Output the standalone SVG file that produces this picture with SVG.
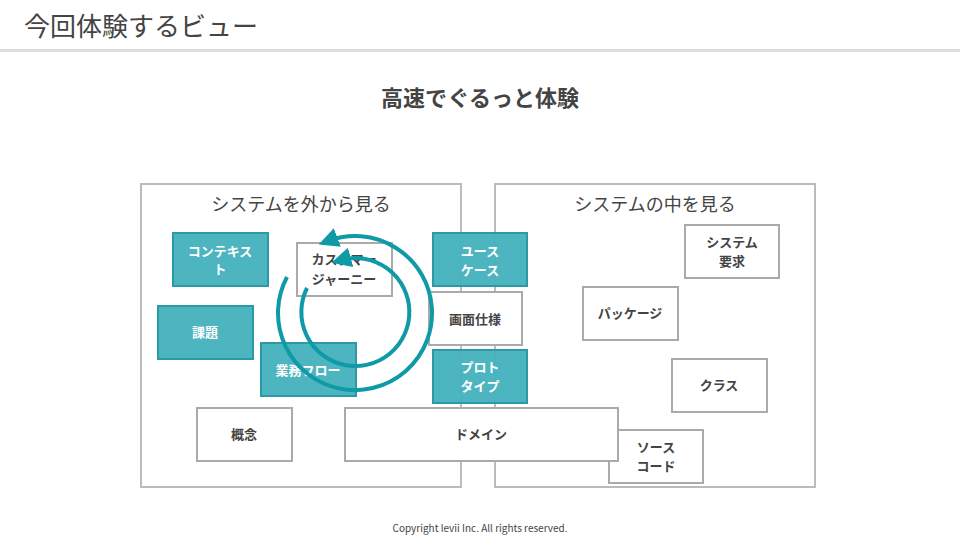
<svg xmlns="http://www.w3.org/2000/svg" width="960" height="540" viewBox="0 0 960 540">
<defs>
<style>
text{font-family:"Noto Sans CJK JP","Noto Sans",sans-serif;fill:#444}
.c{fill:#fff;stroke:#bbb;stroke-width:2}
.t{fill:#47b3bd;stroke:#2a9ba5;stroke-width:2;fill-opacity:0.97}
.w{fill:#fff;stroke:#aaa;stroke-width:2}
.l{font-size:13px;font-weight:bold;text-anchor:middle}
.tl{fill:#fff}
.arc{fill:none;stroke:#0e9aa7;stroke-width:4}
</style>
<marker id="ah" viewBox="0 0 10 10" refX="5" refY="5" markerWidth="5" markerHeight="5" orient="auto" markerUnits="strokeWidth"><path d="M0,0L10,5L0,10z" fill="#0e9aa7"/></marker>
</defs>
<rect width="960" height="540" fill="#fff"/>
<text x="24" y="36" font-size="26" fill="#555">今回体験するビュー</text>
<rect x="0" y="49" width="960" height="3" fill="#ddd"/>
<text x="480" y="106" font-size="22" font-weight="bold" text-anchor="middle">高速でぐるっと体験</text>
<g id="outside"><rect class="c" x="141" y="184" width="320" height="303"/><text x="301" y="211" font-size="18" text-anchor="middle" fill="#555">システムを外から見る</text></g>
<g id="inside"><rect class="c" x="495" y="184" width="320" height="303" fill-opacity="0"/><text x="655" y="211" font-size="18" text-anchor="middle" fill="#555">システムの中を見る</text></g>
<g id="context"><rect class="t" x="173" y="233" width="95" height="53"/><text class="l tl" x="220" y="256">コンテキス</text><text class="l tl" x="220" y="274">ト</text></g>
<g id="journey"><rect class="w" x="297" y="243" width="95" height="53"/><text class="l" x="344" y="264">カスタマー</text><text class="l" x="344" y="284">ジャーニー</text></g>
<g id="kadai"><rect class="t" x="158" y="306" width="95" height="53"/><text class="l tl" x="205" y="337">課題</text></g>
<g id="usecase"><rect class="t" x="433" y="233" width="94" height="53"/><text class="l tl" x="480" y="256">ユース</text><text class="l tl" x="480" y="275">ケース</text></g>
<g id="screen"><rect class="w" x="429" y="292" width="93" height="53"/><text class="l" x="475" y="324">画面仕様</text></g>
<g id="proto"><rect class="t" x="433" y="350" width="94" height="53"/><text class="l tl" x="480" y="372">プロト</text><text class="l tl" x="480" y="391">タイプ</text></g>
<g id="gainen"><rect class="w" x="197" y="408" width="95" height="53"/><text class="l" x="244" y="439">概念</text></g>
<g id="reqs"><rect class="w" x="685" y="225" width="94" height="53"/><text class="l" x="732" y="247">システム</text><text class="l" x="732" y="266">要求</text></g>
<g id="package"><rect class="w" x="583" y="287" width="95" height="53"/><text class="l" x="630" y="318">パッケージ</text></g>
<g id="class"><rect class="w" x="672" y="359" width="95" height="53"/><text class="l" x="719" y="390">クラス</text></g>
<g id="source"><rect class="w" x="609" y="430" width="94" height="53"/><text class="l" x="656" y="452">ソース</text><text class="l" x="656" y="471">コード</text></g>
<g id="domain"><rect class="w" x="345" y="408" width="273" height="53"/><text class="l" x="481" y="439">ドメイン</text></g>
<g id="flow"><rect class="t" x="261" y="343" width="95" height="53"/><text class="l tl" x="308" y="375">業務フロー</text></g>
<g id="connectors">
<path class="arc" marker-end="url(#ah)" d="M287,277 A77,77 0 1 0 328,241"/>
<path class="arc" marker-end="url(#ah)" d="M307,288 A54,54 0 1 0 341,260"/>
</g>
<text x="480" y="532" font-size="10" text-anchor="middle" fill="#555">Copyright levii Inc. All rights reserved.</text>
</svg>
